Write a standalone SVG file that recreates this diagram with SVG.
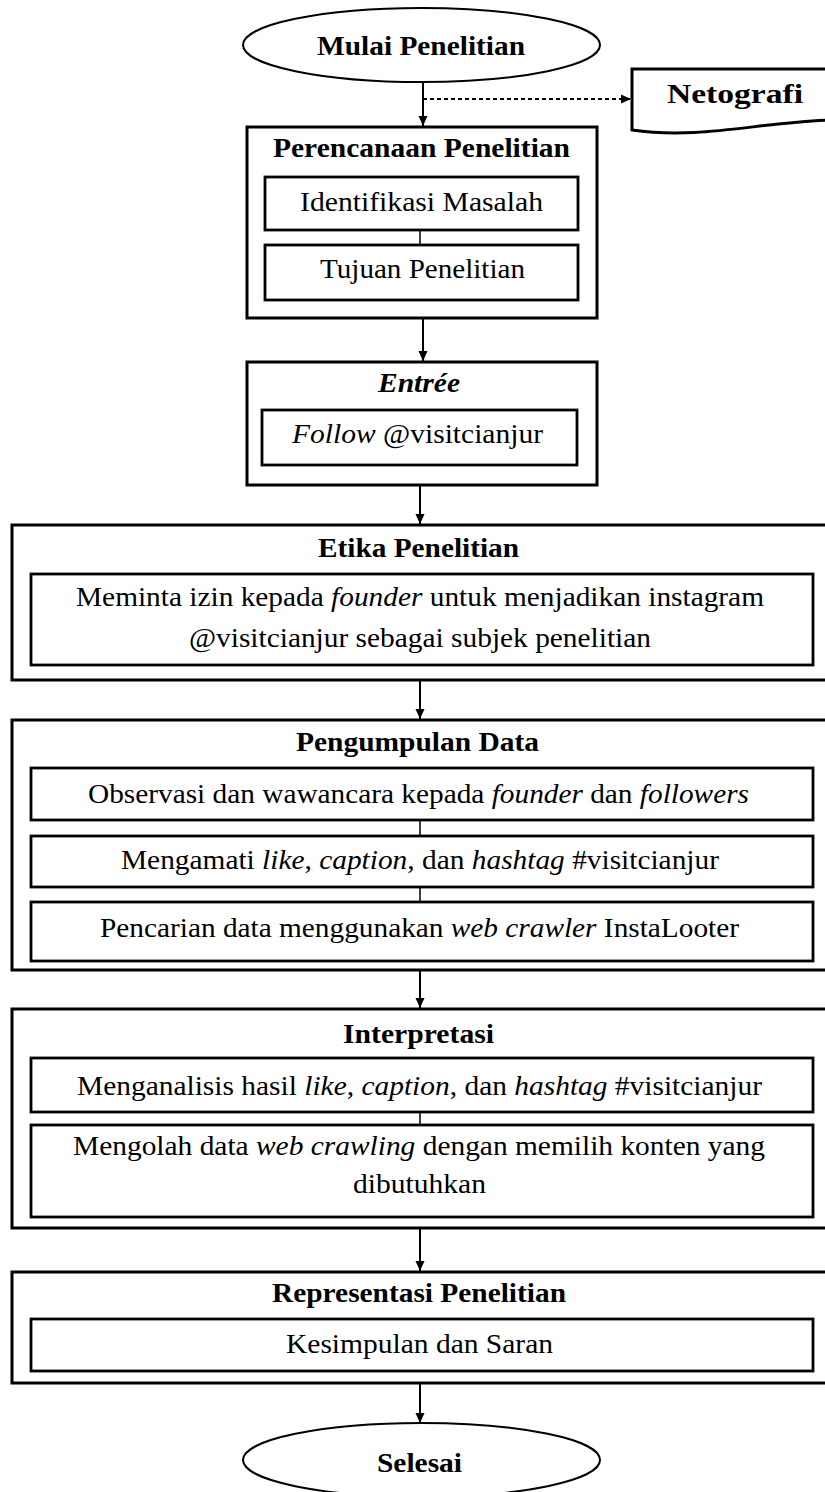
<svg xmlns="http://www.w3.org/2000/svg" width="825" height="1492" viewBox="0 0 825 1492">
<style>
  text { font-family: "Liberation Serif", "Times New Roman", serif; font-size: 28px; fill: #000; }
  .b { font-weight: bold; }
  .i { font-style: italic; }
  .outer { fill: #fff; stroke: #000; stroke-width: 3; }
  .inner { fill: #fff; stroke: #000; stroke-width: 2.8; }
  .term { fill: #fff; stroke: #000; stroke-width: 2; }
  .arrow { fill: none; stroke: #000; stroke-width: 2; marker-end: url(#ah); }
  .dash { fill: none; stroke: #000; stroke-width: 1.8; stroke-dasharray: 4 3; marker-end: url(#ah); }
  .tick { fill: none; stroke: #000; stroke-width: 1.5; }
</style>
<defs>
  <marker id="ah" viewBox="0 0 10 10" refX="10" refY="5" markerWidth="10" markerHeight="10" markerUnits="userSpaceOnUse" orient="auto">
    <path d="M0,0.5 L10,5 L0,9.5 Z" fill="#000"/>
  </marker>
</defs>
<rect width="825" height="1492" fill="#fff"/>

<g id="connectors">
  <line class="arrow" x1="423" y1="82" x2="423" y2="126"/>
  <line class="dash" x1="423" y1="99" x2="631" y2="99"/>
  <line class="arrow" x1="423" y1="318" x2="423" y2="361"/>
  <line class="arrow" x1="420" y1="485" x2="420" y2="524"/>
  <line class="arrow" x1="420" y1="680" x2="420" y2="719"/>
  <line class="arrow" x1="420" y1="970" x2="420" y2="1008"/>
  <line class="arrow" x1="420" y1="1228" x2="420" y2="1271"/>
  <line class="arrow" x1="420" y1="1383" x2="420" y2="1423"/>
</g>

<g id="start">
  <ellipse class="term" cx="421.5" cy="45" rx="178.5" ry="37"/>
  <text class="b" x="317" y="55" textLength="208" lengthAdjust="spacingAndGlyphs">Mulai Penelitian</text>
</g>

<g id="netografi">
  <path class="outer" d="M632,130 L632,69 L830,69 L830,120 C760,122 700,140 632,130 Z"/>
  <text class="b" x="667" y="103" textLength="136" lengthAdjust="spacingAndGlyphs">Netografi</text>
</g>

<g id="perencanaan">
  <rect class="outer" x="247" y="127" width="350" height="191"/>
  <text class="b" x="273" y="157" textLength="297" lengthAdjust="spacingAndGlyphs">Perencanaan Penelitian</text>
  <rect class="inner" x="265" y="177" width="313" height="53"/>
  <text x="300" y="211" textLength="243" lengthAdjust="spacingAndGlyphs">Identifikasi Masalah</text>
  <line class="tick" x1="420" y1="230" x2="420" y2="245"/>
  <rect class="inner" x="265" y="245" width="313" height="55"/>
  <text x="320" y="278" textLength="205" lengthAdjust="spacingAndGlyphs">Tujuan Penelitian</text>
</g>

<g id="entree">
  <rect class="outer" x="247" y="362" width="350" height="123"/>
  <text class="b i" x="378" y="392" textLength="82" lengthAdjust="spacingAndGlyphs">Entrée</text>
  <rect class="inner" x="262" y="410" width="315" height="55"/>
  <text x="292" y="443" textLength="251" lengthAdjust="spacingAndGlyphs"><tspan class="i">Follow</tspan> @visitcianjur</text>
</g>

<g id="etika">
  <rect class="outer" x="12" y="525" width="820" height="155"/>
  <text class="b" x="318" y="557" textLength="201" lengthAdjust="spacingAndGlyphs">Etika Penelitian</text>
  <rect class="inner" x="31" y="574" width="782" height="91"/>
  <text x="76" y="606" textLength="688" lengthAdjust="spacingAndGlyphs">Meminta izin kepada <tspan class="i">founder</tspan> untuk menjadikan instagram</text>
  <text x="189" y="647" textLength="462" lengthAdjust="spacingAndGlyphs">@visitcianjur sebagai subjek penelitian</text>
</g>

<g id="pengumpulan">
  <rect class="outer" x="12" y="720" width="820" height="250"/>
  <text class="b" x="296" y="751" textLength="243" lengthAdjust="spacingAndGlyphs">Pengumpulan Data</text>
  <rect class="inner" x="31" y="768" width="782" height="52"/>
  <text x="88" y="803" textLength="661" lengthAdjust="spacingAndGlyphs">Observasi dan wawancara kepada <tspan class="i">founder</tspan> dan <tspan class="i">followers</tspan></text>
  <line class="tick" x1="420" y1="820" x2="420" y2="836"/>
  <rect class="inner" x="31" y="836" width="782" height="51"/>
  <text x="121" y="869" textLength="598" lengthAdjust="spacingAndGlyphs">Mengamati <tspan class="i">like</tspan>, <tspan class="i">caption</tspan>, dan <tspan class="i">hashtag</tspan> #visitcianjur</text>
  <line class="tick" x1="420" y1="887" x2="420" y2="902"/>
  <rect class="inner" x="31" y="902" width="782" height="59"/>
  <text x="100" y="937" textLength="639" lengthAdjust="spacingAndGlyphs">Pencarian data menggunakan <tspan class="i">web crawler</tspan> InstaLooter</text>
</g>

<g id="interpretasi">
  <rect class="outer" x="12" y="1009" width="820" height="219"/>
  <text class="b" x="343" y="1043" textLength="151" lengthAdjust="spacingAndGlyphs">Interpretasi</text>
  <rect class="inner" x="31" y="1058" width="782" height="54"/>
  <text x="77" y="1095" textLength="685" lengthAdjust="spacingAndGlyphs">Menganalisis hasil <tspan class="i">like</tspan>, <tspan class="i">caption</tspan>, dan <tspan class="i">hashtag</tspan> #visitcianjur</text>
  <line class="tick" x1="420" y1="1112" x2="420" y2="1125"/>
  <rect class="inner" x="31" y="1125" width="782" height="92"/>
  <text x="73" y="1155" textLength="692" lengthAdjust="spacingAndGlyphs">Mengolah data <tspan class="i">web crawling</tspan> dengan memilih konten yang</text>
  <text x="353" y="1193" textLength="133" lengthAdjust="spacingAndGlyphs">dibutuhkan</text>
</g>

<g id="representasi">
  <rect class="outer" x="12" y="1272" width="820" height="111"/>
  <text class="b" x="272" y="1302" textLength="294" lengthAdjust="spacingAndGlyphs">Representasi Penelitian</text>
  <rect class="inner" x="31" y="1319" width="782" height="52"/>
  <text x="286" y="1353" textLength="267" lengthAdjust="spacingAndGlyphs">Kesimpulan dan Saran</text>
</g>

<g id="end">
  <ellipse class="term" cx="421.5" cy="1460" rx="178.5" ry="37"/>
  <text class="b" x="377" y="1472" textLength="85" lengthAdjust="spacingAndGlyphs">Selesai</text>
</g>
</svg>
